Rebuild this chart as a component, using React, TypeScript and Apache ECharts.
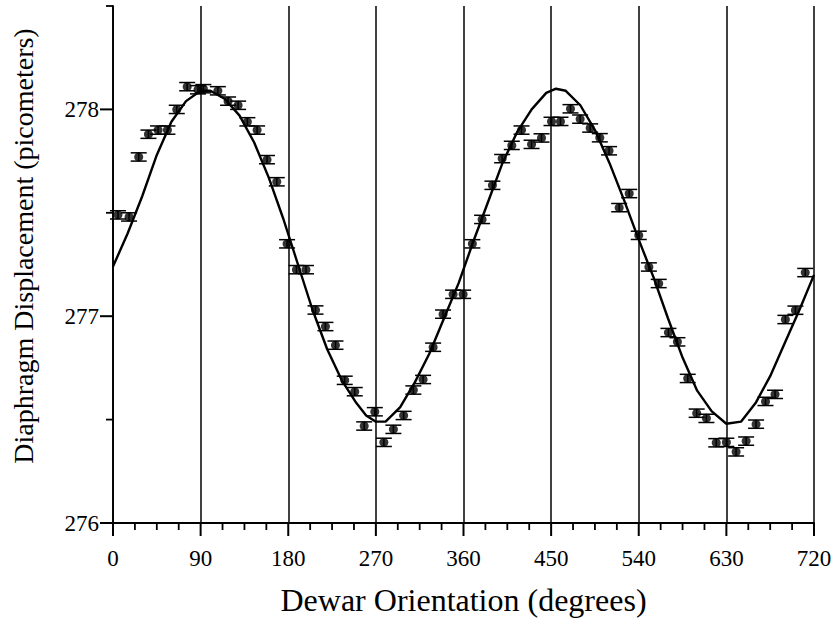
import React, { useEffect, useRef } from "react";
import * as echarts from "echarts";

// Tick labels
const X_TICKS = [0, 90, 180, 270, 360, 450, 540, 630, 720];
const Y_TICKS = [276, 277, 278];
const Y_MINOR_TICKS = [276.5, 277.5, 278.5];

// Measured points (degrees, picometers)
const ANGLES = [
  5.1, 16.5, 26.4, 36.4, 46.3, 55.9, 65.5, 76.2, 87.3, 92.8,
  107.7, 118.2, 128.5, 138, 148, 158.2, 168.2, 178.8, 188.4, 198.2,
  208, 218.2, 228.5, 238, 248.3, 258, 268.9, 278.2, 288, 298.5,
  308.5, 318.5, 328.8, 339, 349.3, 359.6, 369.1, 379.1, 389.7, 399.7,
  409.6, 419.6, 429.9, 440.1, 450.4, 459.6, 469.9, 479.8, 490.1, 500,
  509.5, 519.9, 530.2, 540, 550.4, 560.5, 570.5, 579.7, 590.3, 599.5,
  609.5, 619.6, 630, 640, 650.3, 660.5, 670.2, 680, 690.6, 700.9, 711,
];
const DISPLACEMENT = [
  277.49, 277.48, 277.77, 277.88, 277.9, 277.9, 278.0, 278.11, 278.095, 278.1,
  278.09, 278.04, 278.02, 277.94, 277.9, 277.757, 277.65, 277.35, 277.225, 277.225,
  277.03, 276.95, 276.86, 276.69, 276.635, 276.469, 276.538, 276.39, 276.453, 276.52,
  276.643, 276.694, 276.85, 277.01, 277.106, 277.106, 277.35, 277.468, 277.633, 277.762,
  277.826, 277.9, 277.831, 277.862, 277.942, 277.942, 278.003, 277.953, 277.91, 277.863,
  277.8, 277.525, 277.593, 277.391, 277.238, 277.158, 276.921, 276.876, 276.699, 276.531,
  276.506, 276.388, 276.39, 276.344, 276.396, 276.478, 276.588, 276.622, 276.984, 277.029, 277.211,
];
const ERRORS = ANGLES.map(() => 0.02);

// Fitted curve
const FIT_ANGLES = [
  0, 15, 30, 45, 60, 75, 90, 100, 115, 130, 145, 160, 175, 190, 205, 220, 235, 250, 260, 270,
  280, 295, 310, 325, 340, 355, 370, 385, 400, 415, 430, 445, 455, 465, 480, 495, 510, 525,
  540, 555, 570, 585, 600, 615, 630, 645, 660, 675, 690, 705, 720,
];
const FIT_VALUES = [
  277.24, 277.4, 277.58, 277.78, 277.94, 278.04, 278.09, 278.09, 278.05, 277.97, 277.84, 277.67,
  277.47, 277.25, 277.03, 276.84, 276.69, 276.58, 276.52, 276.49,
  276.49, 276.56, 276.68, 276.82, 276.99, 277.16, 277.36, 277.55, 277.74, 277.89, 278.0, 278.08,
  278.1, 278.09, 278.02, 277.9, 277.74, 277.56,
  277.37, 277.19, 276.99, 276.8, 276.64, 276.54, 276.48, 276.49, 276.58, 276.71, 276.87, 277.03, 277.2,
];

const FONT = "'Liberation Serif', 'Times New Roman', serif";

export default function App() {
  const ref = useRef<HTMLDivElement>(null);
  useEffect(() => {
    const chart = echarts.init(ref.current!, null, { renderer: "svg" });
    const points = ANGLES.map((a, i) => [a, DISPLACEMENT[i], ERRORS[i]]);
    const fit = FIT_ANGLES.map((a, i) => [a, FIT_VALUES[i]]);
    // minor x ticks: quarters between major ticks
    const xMinor: number[] = [];
    for (let i = 0; i < X_TICKS.length - 1; i++) {
      const a = X_TICKS[i];
      const step = (X_TICKS[i + 1] - a) / 4;
      xMinor.push(a + step, a + 2 * step, a + 3 * step);
    }
    const yMin = Y_TICKS[0];
    const xMin = X_TICKS[0];
    // [x, y, orientation (0 = below x axis, 1 = left of y axis), major flag]
    const tickData = [
      ...X_TICKS.map((v) => [v, yMin, 0, 1]),
      ...xMinor.map((v) => [v, yMin, 0, 0]),
      ...Y_TICKS.map((v) => [xMin, v, 1, 1]),
      ...Y_MINOR_TICKS.map((v) => [xMin, v, 1, 0]),
    ];
    const black = "#000";
    const hidden = { show: false };
    chart.setOption({
      animation: false,
      backgroundColor: "#fff",
      grid: { left: 113, right: 21, top: 6, bottom: 95, containLabel: false },
      xAxis: {
        type: "value",
        min: 0,
        max: 720,
        interval: 90,
        position: "bottom",
        axisLine: { show: true, onZero: false, lineStyle: { color: black, width: 1.8 } },
        axisTick: hidden,
        axisLabel: { customValues: X_TICKS, margin: 24, color: black, fontFamily: FONT, fontSize: 23 },
        splitLine: { show: true, lineStyle: { color: "#111", width: 1.6 } },
      },
      yAxis: {
        type: "value",
        min: 276,
        max: 278.5,
        interval: 1,
        position: "left",
        axisLine: { show: true, onZero: false, lineStyle: { color: black, width: 1.8 } },
        axisTick: hidden,
        axisLabel: { customValues: Y_TICKS, margin: 14, color: black, fontFamily: FONT, fontSize: 23 },
        splitLine: hidden,
      },
      graphic: [
        {
          type: "text",
          x: 463.5,
          y: 600,
          style: {
            text: "Dewar Orientation (degrees)",
            fontFamily: FONT,
            fontSize: 32,
            fill: black,
            align: "center",
            verticalAlign: "middle",
          },
        },
        {
          type: "text",
          x: 23,
          y: 246,
          rotation: Math.PI / 2,
          style: {
            text: "Diaphragm Displacement (picometers)",
            fontFamily: FONT,
            fontSize: 28,
            fill: black,
            align: "center",
            verticalAlign: "middle",
          },
        },
      ],
      series: [
        {
          type: "custom",
          data: tickData,
          encode: { x: 0, y: 1 },
          silent: true,
          clip: false,
          z: 6,
          renderItem: (params: any, api: any) => {
            const p = api.coord([api.value(0), api.value(1)]);
            const vertical = api.value(2) === 0;
            const major = api.value(3) === 1;
            const len = major ? 13 : 7;
            return {
              type: "line",
              shape: vertical
                ? { x1: p[0], y1: p[1], x2: p[0], y2: p[1] + len }
                : { x1: p[0] - len, y1: p[1], x2: p[0], y2: p[1] },
              style: { stroke: black, lineWidth: major ? 2 : 1.8 },
            };
          },
        },
        {
          type: "line",
          data: fit,
          showSymbol: false,
          symbol: "none",
          smooth: false,
          lineStyle: { color: black, width: 2.4 },
          z: 3,
        },
        {
          type: "custom",
          data: points,
          encode: { x: 0, y: 1 },
          z: 4,
          renderItem: (params: any, api: any) => {
            const x = api.value(0);
            const y = api.value(1);
            const e = api.value(2);
            const top = api.coord([x, y + e]);
            const bot = api.coord([x, y - e]);
            const hw = 8;
            const st = { stroke: black, lineWidth: 1.5 };
            return {
              type: "group",
              children: [
                { type: "line", shape: { x1: top[0], y1: top[1], x2: bot[0], y2: bot[1] }, style: st },
                { type: "line", shape: { x1: top[0] - hw, y1: top[1], x2: top[0] + hw, y2: top[1] }, style: st },
                { type: "line", shape: { x1: bot[0] - hw, y1: bot[1], x2: bot[0] + hw, y2: bot[1] }, style: st },
              ],
            };
          },
        },
        {
          type: "scatter",
          data: points.map((p) => [p[0], p[1]]),
          symbol: "circle",
          symbolSize: 9,
          itemStyle: { color: black },
          z: 5,
        },
      ],
    });
    return () => chart.dispose();
  }, []);
  return (
    <div
      ref={ref}
      style={{ position: "fixed", left: 0, top: 0, width: 835, height: 618, background: "#fff" }}
    />
  );
}
